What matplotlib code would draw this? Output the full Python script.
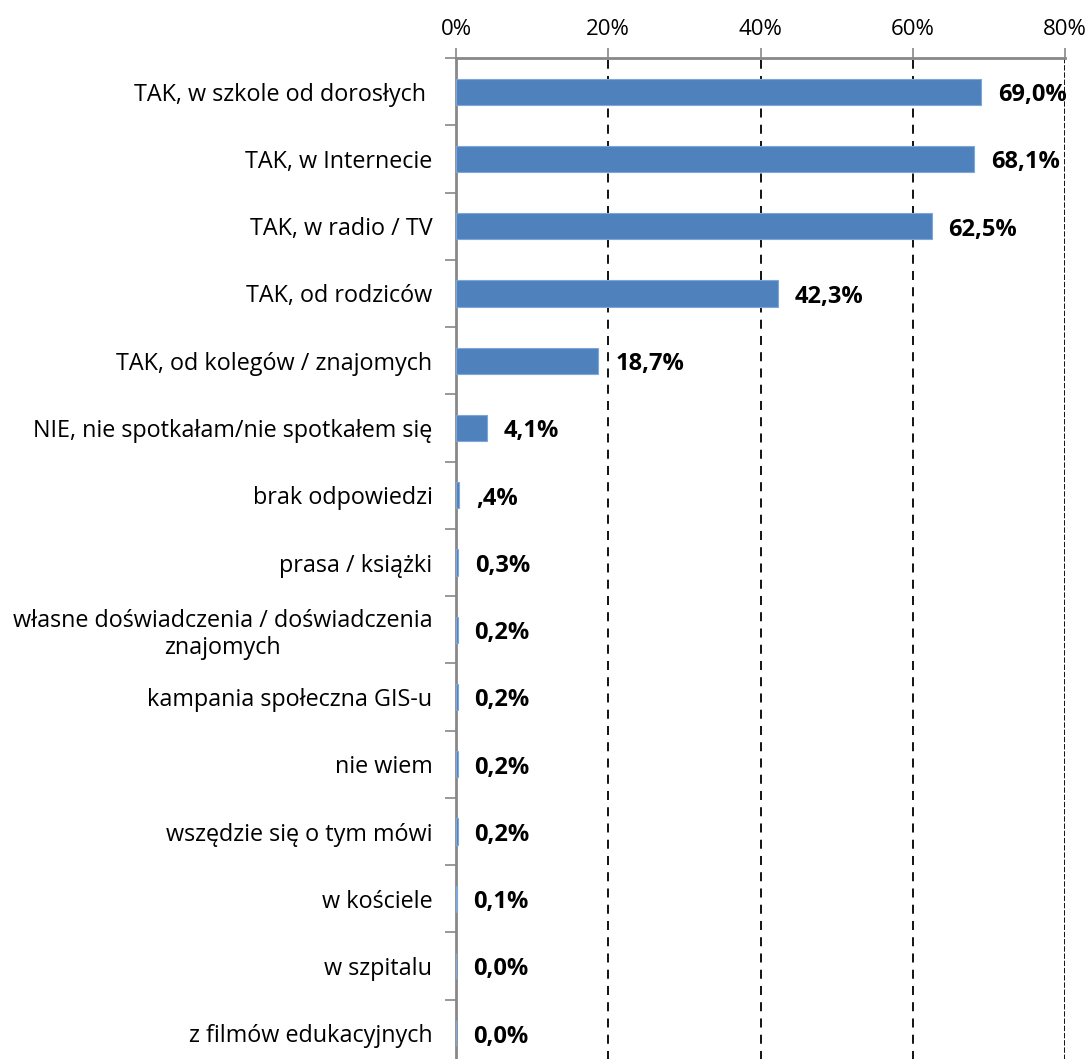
import matplotlib
matplotlib.use('Agg')
import matplotlib.pyplot as plt
import numpy as np
from matplotlib.ticker import FixedLocator, PercentFormatter

plt.rcParams['font.family'] = ['Open Sans', 'DejaVu Sans']

categories = [
    'TAK, w szkole od dorosłych ',
    'TAK, w Internecie',
    'TAK, w radio / TV',
    'TAK, od rodziców',
    'TAK, od kolegów / znajomych',
    'NIE, nie spotkałam/nie spotkałem się',
    'brak odpowiedzi',
    'prasa / książki',
    'własne doświadczenia / doświadczenia\nznajomych',
    'kampania społeczna GIS-u',
    'nie wiem',
    'wszędzie się o tym mówi',
    'w kościele',
    'w szpitalu',
    'z filmów edukacyjnych',
]
values = [69.0, 68.1, 62.5, 42.3, 18.7, 4.1, 0.4, 0.3, 0.2, 0.2, 0.2, 0.2, 0.1, 0.0, 0.0]
value_labels = ['69,0%', '68,1%', '62,5%', '42,3%', '18,7%', '4,1%', ',4%', '0,3%',
                '0,2%', '0,2%', '0,2%', '0,2%', '0,1%', '0,0%', '0,0%']

fig = plt.figure(figsize=(10.92, 10.59), dpi=100)
ax = fig.add_axes([456 / 1092, -8 / 1059, (1065 - 456) / 1092, (1067 - 58) / 1059])

y = np.arange(len(categories))
ax.barh(y, values, height=0.39, color='#4F81BD', edgecolor='#7EA6D8', linewidth=0.8, zorder=3)

for yi, v, lab in zip(y, values, value_labels):
    ax.text(v + 2.2, yi + 0.05, lab, va='center', ha='left', fontsize=17,
            fontweight='bold', color='black', zorder=4)

ax.set_xlim(0, 80)
ax.set_ylim(len(categories) - 0.5, -0.5)

# x axis on top
ax.xaxis.tick_top()
ax.xaxis.set_major_locator(FixedLocator([0, 20, 40, 60, 80]))
ax.xaxis.set_major_formatter(PercentFormatter(decimals=0))
ax.tick_params(axis='x', direction='out', length=7, width=1.2, color='#888888',
               labelsize=16, pad=6)

# category labels, ticks between categories
ax.set_yticks(y)
ax.set_yticklabels(categories, fontsize=16.8, multialignment='center')
ax.set_yticks(np.arange(-0.5, len(categories), 1), minor=True)
ax.tick_params(axis='y', which='major', length=0, pad=17)
ax.tick_params(axis='y', which='minor', direction='out', length=8, width=1.2, color='#888888')

for x in [20, 40, 60]:
    ax.axvline(x, color='black', linestyle=(0, (5, 4)), linewidth=1.3, zorder=1)
ax.axvline(80, color='black', linestyle=(0, (3, 1)), linewidth=1.3, zorder=1)

for s in ['right', 'bottom']:
    ax.spines[s].set_visible(False)
ax.spines['left'].set_color('#888888')
ax.spines['left'].set_linewidth(2)
ax.spines['top'].set_color('#888888')
ax.spines['top'].set_linewidth(2)

fig.savefig('out.png', dpi=100, facecolor='white')
